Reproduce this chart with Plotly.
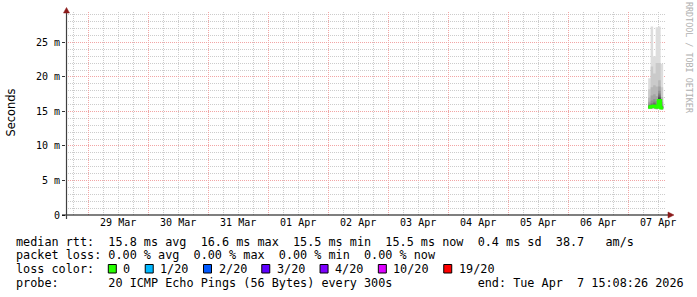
import plotly.graph_objects as go

# ---------------- data ----------------
x_range = ["2026-03-28 15:08:26", "2026-04-07 15:08:26"]
y_max_ms = 29.4

# hourly consolidated samples (interval starts) + end of last interval
sample_start = ["2026-04-07 08:00", "2026-04-07 09:00", "2026-04-07 10:00",
                "2026-04-07 11:00", "2026-04-07 12:00", "2026-04-07 13:00"]
sample_end = "2026-04-07 14:00"

# 20 sorted ping rtts (ms) per sample
pings_s1 = [15.3, 15.35, 15.4, 15.45, 15.5, 15.5, 15.55, 15.55, 15.6, 15.6,
            15.6, 15.65, 15.7, 15.8, 15.9, 16.1, 16.4, 17.0, 18.2, 19.8]
pings_s2 = [15.3, 15.35, 15.4, 15.45, 15.5, 15.55, 15.6, 15.65, 15.7, 15.7,
            15.75, 15.8, 15.9, 16.0, 16.2, 16.6, 17.3, 18.5, 21.5, 27.3]
pings_s3 = [15.3, 15.4, 15.45, 15.5, 15.55, 15.6, 15.7, 15.75, 15.8, 15.8,
            15.85, 15.9, 16.0, 16.2, 16.4, 16.8, 17.5, 18.8, 20.5, 23.0]
pings_s4 = [15.25, 15.3, 15.35, 15.4, 15.45, 15.5, 15.55, 15.55, 15.6, 15.6,
            15.65, 15.7, 15.8, 15.9, 16.1, 16.5, 17.2, 18.6, 22.0, 27.2]
pings_s5 = [15.4, 15.5, 15.6, 15.7, 15.8, 15.9, 16.1, 16.3, 16.5, 16.6,
            16.7, 16.9, 17.1, 17.3, 17.6, 18.0, 18.6, 19.5, 22.0, 27.3]
pings_s6 = [15.2, 15.25, 15.3, 15.35, 15.4, 15.4, 15.45, 15.45, 15.5, 15.5,
            15.5, 15.55, 15.6, 15.7, 15.8, 16.0, 16.4, 17.1, 18.5, 21.9]

median_rtt = [15.6, 15.7, 15.8, 15.6, 16.6, 15.5]

y_tick_vals = [0, 5, 10, 15, 20, 25]
y_tick_text = ["0", "5 m", "10 m", "15 m", "20 m", "25 m"]

loss_labels = ["0", "1/20", "2/20", "3/20", "4/20", "10/20", "19/20"]
loss_colors = ["#26ff00", "#00b8ff", "#0059ff", "#5e00ff", "#7e00ff", "#dd00ff", "#ff0000"]

line_median = "median rtt:  15.8 ms avg  16.6 ms max  15.5 ms min  15.5 ms now  0.4 ms sd  38.7   am/s"
line_loss = "packet loss: 0.00 % avg  0.00 % max  0.00 % min  0.00 % now"
line_color_title = "loss color:"
line_probe = "probe:       20 ICMP Echo Pings (56 Bytes) every 300s            end: Tue Apr  7 15:08:26 2026"
watermark = "RRDTOOL / TOBI OETIKER"

# ---------------- layout geometry ----------------
W, H = 697, 297
ML, MR, MT, MB = 66, 31, 12, 82
PW, PH = W - ML - MR, H - MT - MB
MONO = "DejaVu Sans Mono"
CW = 7.12  # legend char advance
MAJ_GRID = "#f2a5a5"
MIN_GRID = "#cccccc"


def px2x(px):
    return (px - ML) / PW


def py2y(py):
    return (H - MB - py) / PH


def nb(s):
    return s.replace(" ", "\u00a0")


fig = go.Figure()

# ---------------- smoke ----------------
all_pings = [pings_s1, pings_s2, pings_s3, pings_s4, pings_s5, pings_s6]
xs = sample_start + [sample_end]
n = len(all_pings[0])
half = n // 2
for i in range(1, half + 1):
    c = int(190 / half * (half - i)) + 50
    col = "#%02x%02x%02x" % (c, c, c)
    lo = [p[i - 1] for p in all_pings]
    hi = [p[n - i] for p in all_pings]
    lo.append(lo[-1])
    hi.append(hi[-1])
    fig.add_trace(go.Scatter(x=xs, y=lo, mode="lines", line=dict(width=0, shape="hv"),
                             showlegend=False, hoverinfo="skip"))
    fig.add_trace(go.Scatter(x=xs, y=hi, mode="lines", line=dict(width=0, shape="hv"),
                             fill="tonexty", fillcolor=col, showlegend=False, hoverinfo="skip"))

# median line (loss 0 -> green)
fig.add_trace(go.Scatter(x=xs, y=median_rtt + [median_rtt[-1]], mode="lines",
                         line=dict(color=loss_colors[0], width=3, shape="hv"),
                         showlegend=False, hoverinfo="skip"))

# ---------------- axes ----------------
fig.update_xaxes(
    type="date", range=x_range, showline=False, zeroline=False,
    tick0="2026-03-29", dtick=86400000, ticklabelmode="period", tickformat="%d %b",
    showgrid=True, gridcolor=MAJ_GRID, griddash="1px,1px", gridwidth=1,
    ticks="", tickfont=dict(family=MONO, size=10, color="black"),
    minor=dict(dtick=21600000, showgrid=True, gridcolor=MIN_GRID, griddash="1px,1px", gridwidth=1),
)
fig.update_yaxes(
    range=[0, y_max_ms], showline=False, zeroline=False,
    tickvals=y_tick_vals, ticktext=y_tick_text,
    showgrid=True, gridcolor=MAJ_GRID, griddash="1px,1px", gridwidth=1,
    ticks="outside", ticklen=3, tickcolor="#333333",
    tickfont=dict(family=MONO, size=10, color="black"),
    minor=dict(dtick=1, showgrid=True, gridcolor=MIN_GRID, griddash="1px,1px", gridwidth=1),
)

shapes = []
# axis lines
shapes.append(dict(type="line", xref="paper", yref="paper", x0=px2x(62), x1=px2x(669),
                   y0=0, y1=0, line=dict(color="black", width=1.2), layer="above"))
shapes.append(dict(type="line", xref="paper", yref="paper", x0=px2x(66.5), x1=px2x(66.5),
                   y0=py2y(219), y1=py2y(12), line=dict(color="#404040", width=1.2), layer="above"))
# arrows
arrow_col = "#8b1a1a"
shapes.append(dict(type="path", xref="paper", yref="paper", layer="above",
                   path="M %f,%f L %f,%f L %f,%f Z" % (px2x(63.5), py2y(13), px2x(69.5), py2y(13), px2x(66.5), py2y(7.5)),
                   fillcolor=arrow_col, line=dict(color=arrow_col, width=0.5)))
shapes.append(dict(type="path", xref="paper", yref="paper", layer="above",
                   path="M %f,%f L %f,%f L %f,%f Z" % (px2x(668), py2y(212), px2x(668), py2y(218), px2x(674), py2y(215)),
                   fillcolor=arrow_col, line=dict(color=arrow_col, width=0.5)))

annotations = []
# y title
annotations.append(dict(text="Seconds", xref="paper", yref="paper", x=px2x(10.5), y=py2y(113),
                         showarrow=False, textangle=-90, font=dict(family="DejaVu Sans", size=11.4, color="black"),
                         xanchor="center", yanchor="middle"))
# watermark
annotations.append(dict(text=nb(watermark), xref="paper", yref="paper", x=px2x(689), y=py2y(58),
                        showarrow=False, textangle=90, font=dict(family=MONO, size=8.4, color="#b0b0b0"),
                        xanchor="center", yanchor="middle"))


def text_line(s, px, py):
    annotations.append(dict(text=nb(s), xref="paper", yref="paper", x=px2x(px), y=py2y(py),
                            showarrow=False, xanchor="left", yanchor="middle", borderpad=0, borderwidth=0,
                            font=dict(family=MONO, size=11.8, color="black")))


text_line(line_median, 16, 241.5)
text_line(line_loss, 16, 255.3)
text_line(line_color_title, 16, 269)
text_line(line_probe, 16, 282.8)

# loss color legend
bx = 108.3
for lab, col in zip(loss_labels, loss_colors):
    shapes.append(dict(type="rect", xref="paper", yref="paper", layer="above",
                       x0=px2x(bx), x1=px2x(bx + 8), y0=py2y(273), y1=py2y(264.5),
                       fillcolor=col, line=dict(color="black", width=1)))
    text_line(lab, bx + 15, 269)
    bx += 15 + len(lab) * CW + 14.8

fig.update_layout(
    width=W, height=H, autosize=False,
    margin=dict(l=ML, r=MR, t=MT, b=MB),
    paper_bgcolor="white", plot_bgcolor="white",
    shapes=shapes, annotations=annotations, showlegend=False,
)

fig.write_html("out.html")
